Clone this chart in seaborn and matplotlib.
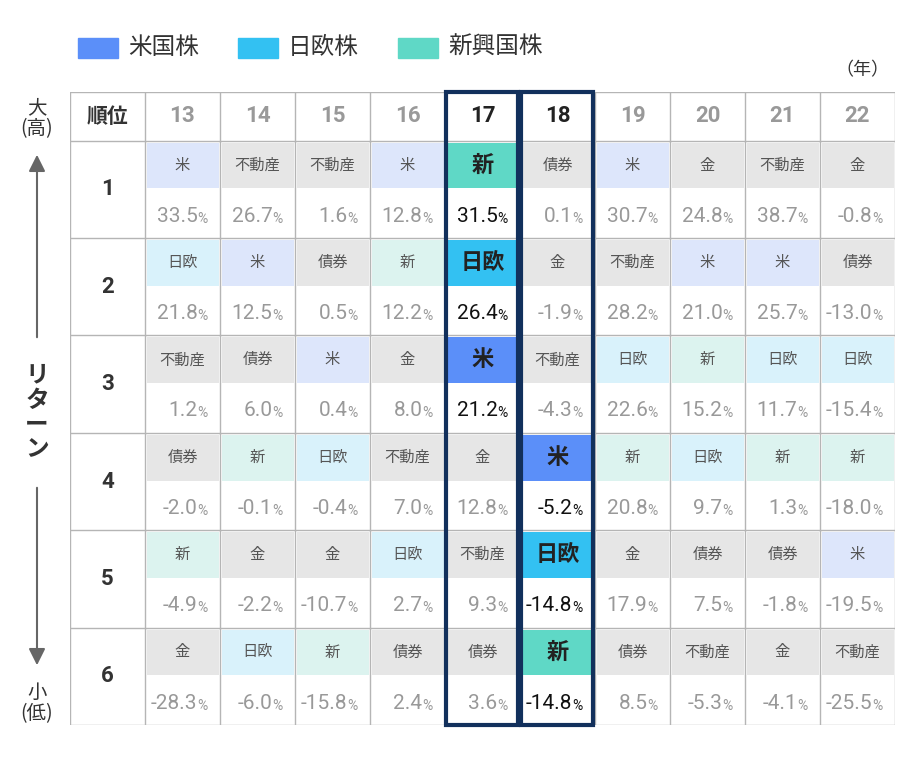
import numpy as np
import matplotlib
matplotlib.use("Agg")
import matplotlib.pyplot as plt
from matplotlib.colors import ListedColormap
from matplotlib.patches import Rectangle
import seaborn as sns

sns.set_style("white")
plt.rcParams['font.family'] = ['Noto Sans CJK JP', 'DejaVu Sans']

years = ["13", "14", "15", "16", "17", "18", "19", "20", "21", "22"]
ranks = ["1", "2", "3", "4", "5", "6"]
assets = [
    ["米", "日欧", "不動産", "債券", "新", "金"],
    ["不動産", "米", "債券", "新", "金", "日欧"],
    ["不動産", "債券", "米", "日欧", "金", "新"],
    ["米", "新", "金", "不動産", "日欧", "債券"],
    ["新", "日欧", "米", "金", "不動産", "債券"],
    ["債券", "金", "不動産", "米", "日欧", "新"],
    ["米", "不動産", "日欧", "新", "金", "債券"],
    ["金", "米", "新", "日欧", "債券", "不動産"],
    ["不動産", "米", "日欧", "新", "債券", "金"],
    ["金", "債券", "日欧", "新", "米", "不動産"],
]
returns = [
    [33.5, 21.8, 1.2, -2.0, -4.9, -28.3],
    [26.7, 12.5, 6.0, -0.1, -2.2, -6.0],
    [1.6, 0.5, 0.4, -0.4, -10.7, -15.8],
    [12.8, 12.2, 8.0, 7.0, 2.7, 2.4],
    [31.5, 26.4, 21.2, 12.8, 9.3, 3.6],
    [0.1, -1.9, -4.3, -5.2, -14.8, -14.8],
    [30.7, 28.2, 22.6, 20.8, 17.9, 8.5],
    [24.8, 21.0, 15.2, 9.7, 7.5, -5.3],
    [38.7, 25.7, 11.7, 1.3, -1.8, -4.1],
    [-0.8, -13.0, -15.4, -18.0, -19.5, -25.5],
]
highlight_years = ["17", "18"]
legend_labels = ["米国株", "日欧株", "新興国株"]

light = {"米": 2, "日欧": 3, "新": 4}
strong = {"米": 5, "日欧": 6, "新": 7}
palette = ["#ffffff", "#e6e6e6", "#dde6fb", "#d9f2fb", "#dcf3ef",
           "#5b8ff9", "#33c1f2", "#5fd8c6"]

nrows = 1 + 2 * len(ranks)
ncols = 1 + len(years)
codes = np.zeros((nrows, ncols))
for j, y in enumerate(years):
    for i in range(len(ranks)):
        a = assets[j][i]
        is_strong = (y == "17" and a in strong) or (y == "18" and i >= 3 and a in strong)
        codes[1 + 2 * i, 1 + j] = strong[a] if is_strong else light.get(a, 1)

fig = plt.figure(figsize=(9.2, 7.6), dpi=100)
ax = fig.add_axes([70 / 920, 35 / 760, 825 / 920, 633 / 760])
sns.heatmap(codes, cmap=ListedColormap(palette), vmin=-0.5, vmax=7.5, cbar=False,
            linewidths=2, linecolor="white", ax=ax)
ax.set_xticks([]); ax.set_yticks([])

grey = "#b5b5b5"
for c in range(ncols + 1):
    ax.plot([c, c], [0, nrows], color=grey, lw=1, zorder=3)
for r in [0, 1, 3, 5, 7, 9, 11, 13]:
    ax.plot([0, ncols], [r, r], color=grey, lw=1, zorder=3)

numfam = ['Roboto', 'DejaVu Sans']
ax.text(0.5, 0.5, "順位", ha="center", va="center", fontsize=15, color="#333", fontweight="bold")
for j, y in enumerate(years):
    hl = y in highlight_years
    ax.text(1.5 + j, 0.5, y, ha="center", va="center", fontsize=16, fontweight="bold",
            family=numfam, color="#222" if hl else "#999")
for i, r in enumerate(ranks):
    ax.text(0.5, 2 + 2 * i, r, ha="center", va="center", fontsize=16, fontweight="bold",
            family=numfam, color="#333")
    for j, y in enumerate(years):
        code = codes[1 + 2 * i, 1 + j]
        st = code >= 5
        ax.text(1.5 + j, 1.5 + 2 * i, assets[j][i], ha="center", va="center",
                fontsize=16 if st else 11, color="#222" if st else "#555",
                fontweight="bold" if st else "normal")
        v = returns[j][i]
        col = "#111" if st or (y == "17" and i < 3) else "#999"
        xc = 1.5 + j + 0.2
        ax.text(xc, 2.55 + 2 * i, f"{v:.1f}", ha="right", va="center", fontsize=15,
                family=numfam, color=col)
        ax.text(xc, 2.6 + 2 * i, "%", ha="left", va="center", fontsize=10,
                family=numfam, color=col)

for k, y in enumerate(highlight_years):
    c = 1 + years.index(y)
    ax.add_patch(Rectangle((c + 0.02, 0.0), 0.96, nrows, fill=False, ec="#12305c", lw=3,
                           zorder=5, clip_on=False))

lx = [78, 238, 398]
for x, lab, colr in zip(lx, legend_labels, palette[5:]):
    fig.patches.append(Rectangle((x / 920, 1 - 58 / 760), 40 / 920, 20 / 760,
                                 transform=fig.transFigure, color=colr))
    fig.text((x + 50) / 920, 1 - 47 / 760, lab, fontsize=17, va="center", color="#333")
fig.text(862 / 920, 1 - 70 / 760, "（年）", fontsize=13, ha="center", va="center", color="#333")

fig.text(37 / 920, 1 - 118 / 760, "大\n(高)", fontsize=14, ha="center", va="center",
         color="#333", linespacing=1.0)
fig.text(37 / 920, 1 - 703 / 760, "小\n(低)", fontsize=14, ha="center", va="center",
         color="#333", linespacing=1.0)
fig.text(37 / 920, 1 - 412 / 760, "リ\nタ\nー\nン", fontsize=17, ha="center", va="center",
         color="#333", linespacing=1.05, fontweight="bold")
axl = fig.add_axes([0, 0, 1, 1], facecolor="none")
axl.set_xlim(0, 920); axl.set_ylim(760, 0); axl.axis("off")
axl.annotate("", xy=(37, 152), xytext=(37, 340),
             arrowprops=dict(arrowstyle="-|>", color="#666", lw=1.5, mutation_scale=25))
axl.annotate("", xy=(37, 668), xytext=(37, 485),
             arrowprops=dict(arrowstyle="-|>", color="#666", lw=1.5, mutation_scale=25))

fig.savefig("out.png", dpi=100)
